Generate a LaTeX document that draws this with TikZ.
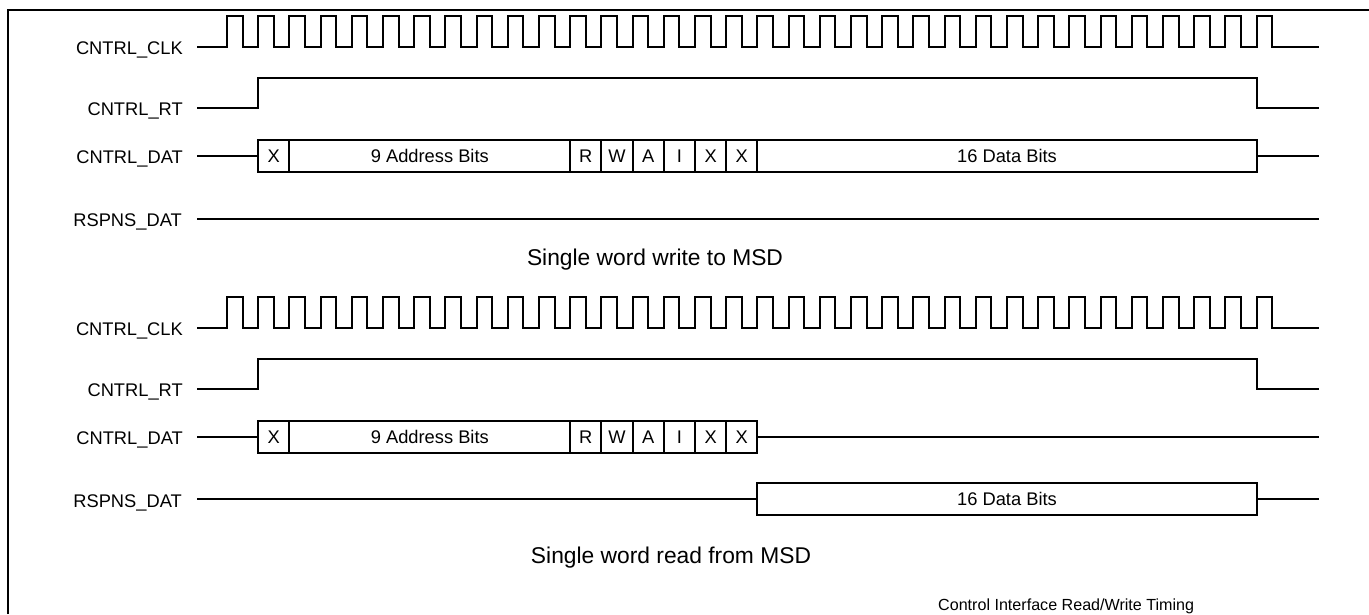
\documentclass[tikz,border=0pt]{standalone}
\usepackage{fontspec}
\setmainfont{Liberation Sans}

\begin{document}
\begin{tikzpicture}[x=1pt,y=-1pt,
  sig/.style={line width=2pt},
  lbl/.style={anchor=base east,inner sep=0pt,font=\fontsize{18.3}{20}\selectfont},
  txt/.style={inner sep=0pt,font=\fontsize{18.3}{20}\selectfont},
  title/.style={anchor=base,inner sep=0pt,font=\fontsize{22.8}{26}\selectfont}]

\useasboundingbox (0,0) rectangle (1369,614);
\draw[sig] (8,614) -- (8,10) -- (1369,10);

% clock and request lines, same in both cycles
\foreach \dy/\c in {0/w,281/r}{
  \node[lbl] (\c clk) at (183,54.5+\dy) {CNTRL\_CLK};
  \draw[sig] (197,47+\dy) -- (227,47+\dy)
    \foreach \k in {0,...,33}{ -- ++(0,-31) -- ++(15.6,0) -- ++(0,31) -- ++(15.6,0)}
    -- (1319,47+\dy);
  \node[lbl] (\c rt) at (183,115.5+\dy) {CNTRL\_RT};
  \draw[sig] (197,108+\dy) -- (258.2,108+\dy) -- (258.2,78+\dy)
    -- (1256.6,78+\dy) -- (1256.6,108+\dy) -- (1319,108+\dy);
  \node[lbl] (\c dat) at (183,163.5+\dy) {CNTRL\_DAT};
  \node[lbl] (\c rsp) at (182,226.5+\dy) {RSPNS\_DAT};
}

% write cycle
\draw[sig] (197,156) -- (258.2,156);
\foreach \a/\b/\t [count=\i] in {1/2/X,2/11/9 Address Bits,11/12/R,12/13/W,13/14/A,14/15/I,15/16/X,16/17/X,17/33/16 Data Bits}{
  \draw[sig] (227+31.2*\a,140) rectangle (227+31.2*\b,172);
  \node[txt] (wcell\i) at (227+15.6*\a+15.6*\b,156) {\t};
}
\draw[sig] (1256.6,156) -- (1319,156);
\draw[sig] (197,218.5) -- (1319,218.5);
\node[title] (wcap) at (655,265) {Single word write to MSD};

% read cycle
\draw[sig] (197,437) -- (258.2,437);
\foreach \a/\b/\t [count=\i] in {1/2/X,2/11/9 Address Bits,11/12/R,12/13/W,13/14/A,14/15/I,15/16/X,16/17/X}{
  \draw[sig] (227+31.2*\a,421) rectangle (227+31.2*\b,453);
  \node[txt] (rcell\i) at (227+15.6*\a+15.6*\b,437) {\t};
}
\draw[sig] (757.4,437) -- (1319,437);
\draw[sig] (197,499) -- (757.4,499);
\draw[sig] (757.4,483) rectangle (1256.6,515);
\node[txt] (rdata) at (1007,499) {16 Data Bits};
\draw[sig] (1256.6,499) -- (1319,499);
\node[title] (rcap) at (671,563) {Single word read from MSD};

\node[anchor=base west,inner sep=0pt,font=\fontsize{16.1}{18}\selectfont] (foot) at (938,610) {Control Interface Read/Write Timing};

\end{tikzpicture}
\end{document}
